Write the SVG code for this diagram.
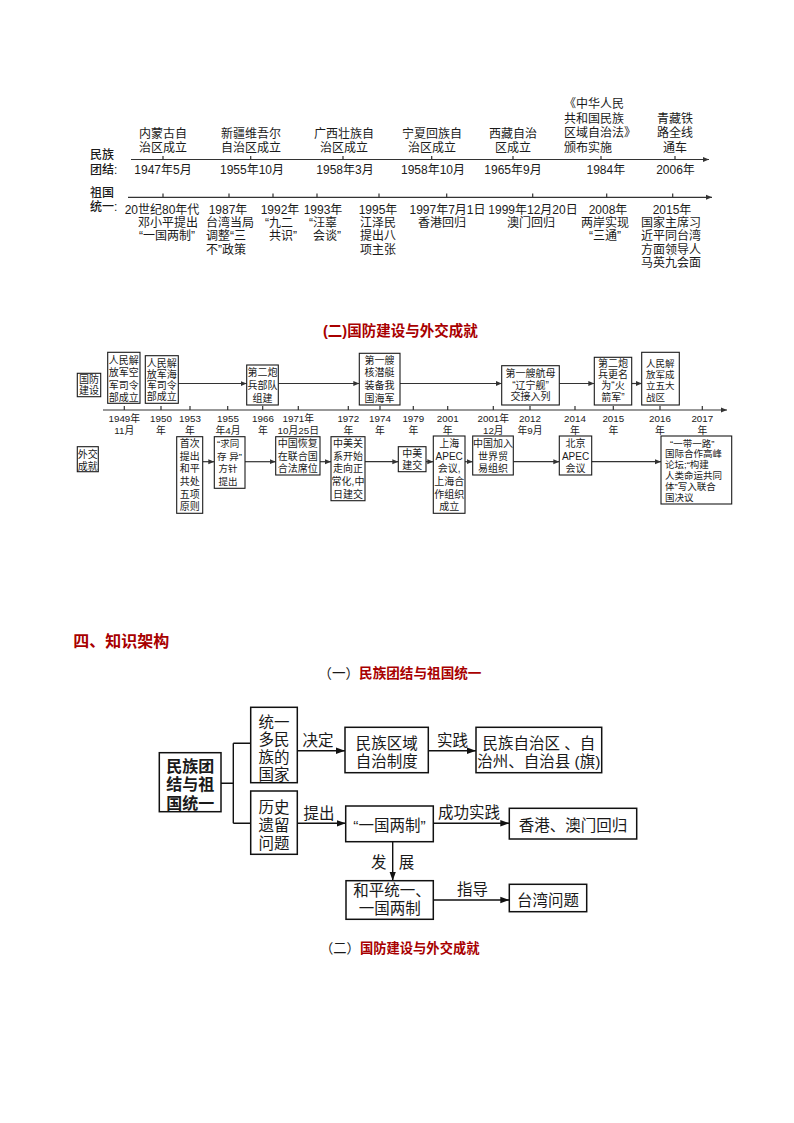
<svg xmlns="http://www.w3.org/2000/svg" width="794" height="1123" viewBox="0 0 794 1123">
<style>
  text { fill: #1a1a1a; font-family: "Liberation Sans", "Noto Sans CJK SC", sans-serif; }
  .cn { font-size: 12px; }
  .mid { text-anchor: middle; }
  .lab { font-size: 12px; font-weight: 500; }
  .d10 { font-size: 9.8px; text-anchor: middle; }
  .b10 { font-size: 10px; text-anchor: middle; }
  .b10s { font-size: 9.5px; }
  .f16 { font-size: 15.5px; text-anchor: middle; }
  .f16b { font-size: 16px; font-weight: 700; text-anchor: middle; }
  .red { fill: #a80000; }
  .box { fill: #fff; stroke: #1a1a1a; stroke-width: 1.1; }
  .fbox { fill: #fff; stroke: #111; stroke-width: 1.5; }
  .ln { fill: none; stroke: #333; stroke-width: 1.2; }
  .fl { fill: none; stroke: #111; stroke-width: 1.4; }
</style>
<defs>
  <marker id="as" markerUnits="userSpaceOnUse" markerWidth="8" markerHeight="6" refX="6" refY="3" orient="auto">
    <path d="M0,0.5 L6,3 L0,5.5 Z" fill="#333"/>
  </marker>
  <marker id="af" markerUnits="userSpaceOnUse" markerWidth="10" markerHeight="8" refX="9" refY="4" orient="auto">
    <path d="M0,0.8 L9,4 L0,7.2 Z" fill="#111"/>
  </marker>
</defs>
<rect width="794" height="1123" fill="#fff"/>

<g id="connectors">
  <!-- timeline 1 -->
  <line class="ln" x1="131" y1="159.5" x2="709" y2="159.5" marker-end="url(#as)"/>
  <path class="ln" d="M163 156V159.5M250.7 156V159.5M343 156V159.5M431.7 156V159.5M513 156V159.5M601 156V159.5M675 156V159.5"/>
  <line class="ln" x1="128" y1="197.3" x2="712" y2="197.3" marker-end="url(#as)"/>
  <path class="ln" d="M163 193.5V197.3M229 193.5V197.3M273 193.5V197.3M317 193.5V197.3M379 193.5V197.3M446.7 193.5V197.3M532.7 193.5V197.3M606.7 193.5V197.3M672.7 193.5V197.3"/>

  <!-- timeline 2 main axis -->
  <line class="ln" x1="103" y1="410" x2="727" y2="410" marker-end="url(#as)"/>
  <path class="ln" d="M124.3 406V410M161 406V410M190 406V410M227.7 406V410M262.7 406V410M298.3 406V410M348.3 406V410M380 406V410M413.3 406V410M447.7 406V410M493.3 406V410M530 406V410M575 406V410M613.3 406V410M660 406V410M702.3 406V410"/>
  <!-- upper row arrows -->
  <line class="ln" x1="178.3" y1="383.5" x2="246.7" y2="383.5" marker-end="url(#as)"/>
  <line class="ln" x1="278.3" y1="383.5" x2="359.3" y2="383.5" marker-end="url(#as)"/>
  <line class="ln" x1="400" y1="383.5" x2="501.7" y2="383.5" marker-end="url(#as)"/>
  <line class="ln" x1="559.3" y1="383.5" x2="594.3" y2="383.5" marker-end="url(#as)"/>
  <line class="ln" x1="631.7" y1="383.5" x2="641.7" y2="383.5" marker-end="url(#as)"/>
  <!-- lower row arrows -->
  <line class="ln" x1="202.7" y1="461.7" x2="214.3" y2="461.7" marker-end="url(#as)"/>
  <line class="ln" x1="245" y1="461.7" x2="275.7" y2="461.7" marker-end="url(#as)"/>
  <line class="ln" x1="320" y1="461.7" x2="331" y2="461.7" marker-end="url(#as)"/>
  <line class="ln" x1="365" y1="461.7" x2="398.3" y2="461.7" marker-end="url(#as)"/>
  <line class="ln" x1="426" y1="461.7" x2="433.3" y2="461.7" marker-end="url(#as)"/>
  <line class="ln" x1="465" y1="461.7" x2="472.7" y2="461.7" marker-end="url(#as)"/>
  <line class="ln" x1="513.3" y1="461.7" x2="559.3" y2="461.7" marker-end="url(#as)"/>
  <line class="ln" x1="591.7" y1="461.7" x2="661" y2="461.7" marker-end="url(#as)"/>

  <!-- flowchart -->
  <path class="fl" d="M221 783.3H233.3M233.3 743.3V823.3M233.3 743.3H250.7M233.3 823.3H250.7"/>
  <line class="fl" x1="297.3" y1="750.7" x2="345" y2="750.7" marker-end="url(#af)"/>
  <line class="fl" x1="428.3" y1="750.7" x2="476" y2="750.7" marker-end="url(#af)"/>
  <line class="fl" x1="297.3" y1="823.3" x2="345.7" y2="823.3" marker-end="url(#af)"/>
  <line class="fl" x1="433.3" y1="823.3" x2="509.3" y2="823.3" marker-end="url(#af)"/>
  <line class="fl" x1="392.7" y1="841.7" x2="392.7" y2="880.7" marker-end="url(#af)"/>
  <line class="fl" x1="433.3" y1="900" x2="509.3" y2="900" marker-end="url(#af)"/>
</g>

<!-- ===== Timeline 1 ===== -->
<g id="tl1-labels">
  <text class="lab"><tspan x="90" y="158.5">民族</tspan><tspan x="90" y="173.5">团结:</tspan></text>
  <text class="lab"><tspan x="90" y="197">祖国</tspan><tspan x="90" y="211">统一:</tspan></text>
</g>

<g id="tl1-events">
  <text class="cn mid"><tspan x="163" y="138">内蒙古自</tspan><tspan x="163" y="151.5">治区成立</tspan><tspan x="163" y="173.5">1947年5月</tspan></text>
  <text class="cn mid"><tspan x="251" y="138">新疆维吾尔</tspan><tspan x="251" y="151.5">自治区成立</tspan><tspan x="252" y="173.5">1955年10月</tspan></text>
  <text class="cn mid"><tspan x="344" y="138">广西壮族自</tspan><tspan x="344" y="151.5">治区成立</tspan><tspan x="345" y="173.5">1958年3月</tspan></text>
  <text class="cn mid"><tspan x="432" y="138">宁夏回族自</tspan><tspan x="432" y="151.5">治区成立</tspan><tspan x="433" y="173.5">1958年10月</tspan></text>
  <text class="cn mid"><tspan x="513" y="138">西藏自治</tspan><tspan x="513" y="151.5">区成立</tspan><tspan x="513" y="173.5">1965年9月</tspan></text>
  <text class="cn"><tspan x="564" y="108">《中华人民</tspan><tspan x="564" y="122.5">共和国民族</tspan><tspan x="564" y="137">区域自治法》</tspan><tspan x="564" y="151.5">颁布实施</tspan><tspan x="586.5" y="173.5">1984年</tspan></text>
  <text class="cn mid"><tspan x="675" y="122.5">青藏铁</tspan><tspan x="675" y="137">路全线</tspan><tspan x="675" y="151.5">通车</tspan><tspan x="675.5" y="173.5">2006年</tspan></text>
</g>

<g id="tl1-unify">
  <text class="cn mid"><tspan x="162" y="213.5">20世纪80年代</tspan><tspan x="168" y="227">邓小平提出</tspan><tspan x="167" y="240.4">“一国两制”</tspan></text>
  <text class="cn"><tspan class="mid" x="228" y="213.5">1987年</tspan><tspan x="206" y="227">台湾当局</tspan><tspan x="206" y="240.4">调整“三</tspan><tspan x="206" y="253.8">不”政策</tspan></text>
  <text class="cn mid"><tspan x="280" y="213.5">1992年</tspan><tspan x="279" y="227">“九二</tspan><tspan x="283" y="240.4">共识”</tspan></text>
  <text class="cn mid"><tspan x="323" y="213.5">1993年</tspan><tspan x="323" y="227">“汪辜</tspan><tspan x="327" y="240.4">会谈”</tspan></text>
  <text class="cn mid"><tspan x="378" y="213.5">1995年</tspan><tspan x="378" y="227">江泽民</tspan><tspan x="378" y="240.4">提出八</tspan><tspan x="378" y="253.8">项主张</tspan></text>
  <text class="cn mid"><tspan x="447.5" y="213.5">1997年7月1日</tspan><tspan x="442" y="227">香港回归</tspan></text>
  <text class="cn mid"><tspan x="533" y="213.5">1999年12月20日</tspan><tspan x="531" y="227">澳门回归</tspan></text>
  <text class="cn mid"><tspan x="608" y="213.5">2008年</tspan><tspan x="605" y="227">两岸实现</tspan><tspan x="605" y="240.4">“三通”</tspan></text>
  <text class="cn mid"><tspan x="672" y="213.5">2015年</tspan><tspan x="671" y="227">国家主席习</tspan><tspan x="671" y="240.4">近平同台湾</tspan><tspan x="671" y="253.8">方面领导人</tspan><tspan x="671" y="267.2">马英九会面</tspan></text>
</g>

<!-- ===== Section title ===== -->
<g id="title2">
  <text class="red" x="323" y="336" font-size="14.5" font-weight="700">(二)国防建设与外交成就</text>
</g>

<!-- ===== Timeline 2 dates ===== -->
<g id="tl2-dates">
  <text class="d10"><tspan x="124.3" y="422">1949年</tspan><tspan x="124.3" y="433.5">11月</tspan></text>
  <text class="d10"><tspan x="161" y="422">1950</tspan><tspan x="161" y="433.5">年</tspan></text>
  <text class="d10"><tspan x="190" y="422">1953</tspan><tspan x="190" y="433.5">年</tspan></text>
  <text class="d10"><tspan x="228" y="422">1955</tspan><tspan x="228" y="433.5">年4月</tspan></text>
  <text class="d10"><tspan x="263" y="422">1966</tspan><tspan x="263" y="433.5">年</tspan></text>
  <text class="d10"><tspan x="298.3" y="422">1971年</tspan><tspan x="298.3" y="433.5">10月25日</tspan></text>
  <text class="d10"><tspan x="348.3" y="422">1972</tspan><tspan x="348.3" y="433.5">年</tspan></text>
  <text class="d10"><tspan x="380" y="422">1974</tspan><tspan x="380" y="433.5">年</tspan></text>
  <text class="d10"><tspan x="413.3" y="422">1979</tspan><tspan x="413.3" y="433.5">年</tspan></text>
  <text class="d10"><tspan x="447.7" y="422">2001</tspan><tspan x="447.7" y="433.5">年</tspan></text>
  <text class="d10"><tspan x="493.3" y="422">2001年</tspan><tspan x="493.3" y="433.5">12月</tspan></text>
  <text class="d10"><tspan x="530" y="422">2012</tspan><tspan x="530" y="433.5">年9月</tspan></text>
  <text class="d10"><tspan x="575" y="422">2014</tspan><tspan x="575" y="433.5">年</tspan></text>
  <text class="d10"><tspan x="613.3" y="422">2015</tspan><tspan x="613.3" y="433.5">年</tspan></text>
  <text class="d10"><tspan x="660" y="422">2016</tspan><tspan x="660" y="433.5">年</tspan></text>
  <text class="d10"><tspan x="702.3" y="422">2017</tspan><tspan x="702.3" y="433.5">年</tspan></text>
</g>

<!-- upper row nodes -->
<g id="n-guofang"><rect class="box" x="77.3" y="373.3" width="23.4" height="23.4"/><text class="b10"><tspan x="89" y="382.5">国防</tspan><tspan x="89" y="394">建设</tspan></text></g>
<g id="n-1949"><rect class="box" x="107.7" y="352.3" width="32.3" height="51"/><text class="b10"><tspan x="123.8" y="363.5">人民解</tspan><tspan x="123.8" y="376">放军空</tspan><tspan x="123.8" y="388.5">军司令</tspan><tspan x="123.8" y="401">部成立</tspan></text></g>
<g id="n-1950"><rect class="box" x="145.3" y="355.7" width="33" height="47.6"/><text class="b10"><tspan x="161.8" y="366.5">人民解</tspan><tspan x="161.8" y="377.7">放军海</tspan><tspan x="161.8" y="388.9">军司令</tspan><tspan x="161.8" y="400.1">部成立</tspan></text></g>
<g id="n-1966"><rect class="box" x="246.7" y="365" width="31.6" height="40"/><text class="b10"><tspan x="262.5" y="376.2">第二炮</tspan><tspan x="262.5" y="388.6">兵部队</tspan><tspan x="262.5" y="401.5">组建</tspan></text></g>
<g id="n-1974"><rect class="box" x="359.3" y="353.3" width="40.7" height="51.7"/><text class="b10"><tspan x="379.6" y="363.7">第一艘</tspan><tspan x="379.6" y="376.2">核潜艇</tspan><tspan x="379.6" y="388.6">装备我</tspan><tspan x="379.6" y="401.5">国海军</tspan></text></g>
<g id="n-2012"><rect class="box" x="501.7" y="365.7" width="57.6" height="39.3"/><text class="b10"><tspan x="530.5" y="377">第一艘航母</tspan><tspan x="530.5" y="388.5">“辽宁舰”</tspan><tspan x="530.5" y="400">交接入列</tspan></text></g>
<g id="n-2015"><rect class="box" x="594.3" y="357.3" width="37.4" height="47.7"/><text class="b10"><tspan x="613" y="367">第二炮</tspan><tspan x="613" y="378.2">兵更名</tspan><tspan x="613" y="389.4">为“火</tspan><tspan x="613" y="400.8">箭军”</tspan></text></g>
<g id="n-2016"><rect class="box" x="641.7" y="352.3" width="37.6" height="52.7"/><text class="b10s"><tspan x="646" y="366.5">人民解</tspan><tspan x="646" y="377.9">放军成</tspan><tspan x="646" y="389.3">立五大</tspan><tspan x="646" y="400.8">战区</tspan></text></g>

<!-- lower row nodes -->
<g id="n-waijiao"><rect class="box" x="77.3" y="446.7" width="21" height="25"/><text class="b10"><tspan x="87.8" y="458">外交</tspan><tspan x="87.8" y="469.8">成就</tspan></text></g>
<g id="n-l1953"><rect class="box" x="176.7" y="436.7" width="26" height="76.6"/><text class="b10"><tspan x="189.7" y="447">首次</tspan><tspan x="189.7" y="459.7">提出</tspan><tspan x="189.7" y="472.4">和平</tspan><tspan x="189.7" y="485.1">共处</tspan><tspan x="189.7" y="497.8">五项</tspan><tspan x="189.7" y="510.3">原则</tspan></text></g>
<g id="n-l1955"><rect class="box" x="214.3" y="436.7" width="30.7" height="51.6"/><text class="b10s"><tspan x="217" y="447">“求同</tspan><tspan x="217" y="459.7">存 异”</tspan><tspan x="218.5" y="472.4">方针</tspan><tspan x="218.5" y="485.1">提出</tspan></text></g>
<g id="n-l1971"><rect class="box" x="275.7" y="436.7" width="44.3" height="38.3"/><text class="b10"><tspan x="297.8" y="447">中国恢复</tspan><tspan x="297.8" y="459.7">在联合国</tspan><tspan x="297.8" y="472">合法席位</tspan></text></g>
<g id="n-l1972"><rect class="box" x="331" y="436.7" width="34" height="64"/><text class="b10"><tspan x="348" y="447">中美关</tspan><tspan x="348" y="459.7">系开始</tspan><tspan x="348" y="472.4">走向正</tspan><tspan x="348" y="485.1">常化,中</tspan><tspan x="348" y="497.5">日建交</tspan></text></g>
<g id="n-l1979"><rect class="box" x="398.3" y="446.7" width="27.7" height="25"/><text class="b10"><tspan x="412.2" y="457.2">中美</tspan><tspan x="412.2" y="468.8">建交</tspan></text></g>
<g id="n-l2001"><rect class="box" x="433.3" y="436" width="31.7" height="77.3"/><text class="b10"><tspan x="449.2" y="447">上海</tspan><tspan x="449.2" y="459.7">APEC</tspan><tspan x="449.2" y="472.4">会议,</tspan><tspan x="449.2" y="485.1">上海合</tspan><tspan x="449.2" y="497.8">作组织</tspan><tspan x="449.2" y="510.3">成立</tspan></text></g>
<g id="n-l2001b"><rect class="box" x="472.7" y="436" width="40.6" height="39"/><text class="b10"><tspan x="493" y="447">中国加入</tspan><tspan x="493" y="459.7">世界贸</tspan><tspan x="493" y="472">易组织</tspan></text></g>
<g id="n-l2014"><rect class="box" x="559.3" y="436" width="32.4" height="39"/><text class="b10"><tspan x="575.5" y="447">北京</tspan><tspan x="575.5" y="459.7">APEC</tspan><tspan x="575.5" y="472">会议</tspan></text></g>
<g id="n-l2017"><rect class="box" x="661" y="436" width="70.7" height="68"/><text class="b10s"><tspan x="670" y="446.5">“一带一路”</tspan><tspan x="665" y="457.3">国际合作高峰</tspan><tspan x="665" y="468.1">论坛;“构建</tspan><tspan x="665" y="478.9">人类命运共同</tspan><tspan x="665" y="489.7">体”写入联合</tspan><tspan x="665" y="500.5">国决议</tspan></text></g>

<!-- ===== Section 四 ===== -->
<g id="heading4">
  <text class="red" x="73.3" y="647" font-size="16" font-weight="700">四、知识架构</text>
  <text x="318.3" y="678" font-family="Noto Sans CJK SC, sans-serif" font-size="13.6">（一）<tspan class="red" font-weight="700" font-family="Noto Sans CJK SC, sans-serif">民族团结与祖国统一</tspan></text>
</g>

<!-- flowchart nodes -->
<g id="f-root"><rect class="fbox" x="159.3" y="752.7" width="61.7" height="59"/><text class="f16b"><tspan x="190.2" y="771.5">民族团</tspan><tspan x="190.2" y="790">结与祖</tspan><tspan x="190.2" y="808.5">国统一</tspan></text></g>
<g id="f-tongyi"><rect class="fbox" x="250.7" y="707.3" width="46.6" height="75.4"/><text class="f16"><tspan x="274" y="727.5">统一</tspan><tspan x="274" y="745">多民</tspan><tspan x="274" y="762.5">族的</tspan><tspan x="274" y="780">国家</tspan></text></g>
<g id="f-lishi"><rect class="fbox" x="250.7" y="791" width="46.6" height="63.3"/><text class="f16"><tspan x="274" y="812.5">历史</tspan><tspan x="274" y="831">遗留</tspan><tspan x="274" y="849.3">问题</tspan></text></g>
<g id="f-zhidu"><rect class="fbox" x="345" y="727.3" width="83.3" height="45.4"/><text class="f16"><tspan x="386.7" y="749.3">民族区域</tspan><tspan x="386.7" y="767">自治制度</tspan></text></g>
<g id="f-zizhi"><rect class="fbox" x="476" y="727.3" width="125.7" height="45.4"/><text class="f16"><tspan x="538.8" y="749.3">民族自治区 、自</tspan><tspan x="538.8" y="767">治州、自治县 (旗)</tspan></text></g>
<g id="f-yiguo"><rect class="fbox" x="345.7" y="806" width="87.6" height="35.7"/><text class="f16" x="389.5" y="830.5" font-family="Noto Sans CJK SC, sans-serif">“一国两制”</text></g>
<g id="f-hk"><rect class="fbox" x="509.3" y="808.3" width="127.4" height="30.7"/><text class="f16" x="573" y="830.5">香港、澳门回归</text></g>
<g id="f-heping"><rect class="fbox" x="346" y="880.7" width="87.3" height="38.6"/><text class="f16"><tspan x="392" y="896">和平统一、</tspan><tspan x="389.7" y="914.3">一国两制</tspan></text></g>
<g id="f-tw"><rect class="fbox" x="509.3" y="884.3" width="77.4" height="27.4"/><text class="f16" x="548" y="905.5">台湾问题</text></g>

<g id="f-labels">
  <text class="f16" x="318" y="746">决定</text>
  <text class="f16" x="452.5" y="746">实践</text>
  <text class="f16" x="319" y="819.3">提出</text>
  <text class="f16" x="469" y="817.7">成功实践</text>
  <text class="f16" x="378.8" y="867.7">发</text>
  <text class="f16" x="406.5" y="867.7">展</text>
  <text class="f16" x="472.5" y="895.3">指导</text>
</g>

<g id="heading-b2">
  <text x="320" y="953" font-family="Noto Sans CJK SC, sans-serif" font-size="13.3">（二）<tspan class="red" font-weight="700" font-family="Noto Sans CJK SC, sans-serif">国防建设与外交成就</tspan></text>
</g>
</svg>
